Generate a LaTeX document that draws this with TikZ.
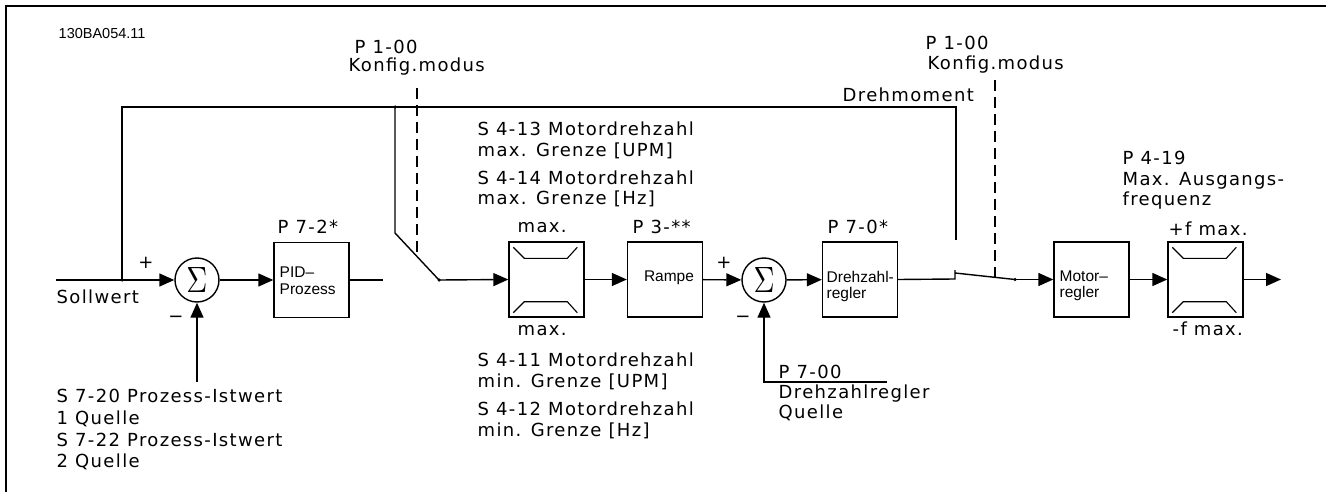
\documentclass[tikz,border=0pt]{standalone}
\usepackage{fontspec}
\newfontfamily\dv[LetterSpace=7.5]{DejaVu Sans}
\newfontfamily\ls{Liberation Sans}
\usetikzlibrary{arrows.meta,calc}
\newcommand{\sumsym}{\resizebox{21pt}{25pt}{$\Sigma$}}
\begin{document}
\begin{tikzpicture}[x=1pt,y=-1pt,line width=1.4pt,
  lbl/.style={anchor=west,inner sep=0pt,font=\dv\fontsize{18}{21}\selectfont,text height=13pt,text depth=0pt},
  sgn/.style={lbl,anchor=center},
  blab/.style={anchor=west,inner sep=0pt,font=\ls\fontsize{15.5}{17}\selectfont,text height=11pt,text depth=0pt},
  blk/.style={draw,minimum width=75pt,minimum height=75pt,inner sep=0pt},
  sumn/.style={draw,circle,minimum size=44pt,inner sep=0pt},
  arr/.style={-{Triangle[length=15pt,width=13pt]}},
  dotn/.style={circle,fill,inner sep=0pt,minimum size=3.5pt},
  dsh/.style={dash pattern=on 11pt off 6pt}]
\useasboundingbox (0,0) rectangle (1326,492);
% frame
\draw[line width=2.4pt] (6,492) -- (6,6) -- (1326,6);
\node[anchor=west,inner sep=0pt,font=\ls\fontsize{14.5}{16}\selectfont,text height=10.4pt,text depth=0pt] (id) at (58,33) {130BA054.11};

% blocks
\node[sumn] (s1) at (197,280) {\sumsym};
\node[blk] (pid) at (311.5,280) {};
\node[blk] (lim1) at (546.5,279.5) {};
\node[blk] (ramp) at (665,279.5) {};
\node[sumn] (s2) at (764,280) {\sumsym};
\node[blk] (drz) at (860,279.5) {};
\node[blk] (mot) at (1091.5,279.5) {};
\node[blk] (lim2) at (1205.5,279.5) {};

% block labels
\node[blab] (pidt1) at (279,272) {PID–};
\node[blab] (pidt2) at (279,289) {Prozess};
\node[blab,anchor=center] (rampt) at (669,276) {Rampe};
\node[blab] (drzt1) at (826,277) {Drehzahl-};
\node[blab] (drzt2) at (826,293) {regler};
\node[blab] (mott1) at (1059,276) {Motor–};
\node[blab] (mott2) at (1059,292) {regler};

% limiter symbols
\foreach \b in {lim1,lim2}{
  \draw[line width=1.1pt] ($(\b.north west)+(5,6)$) -- ($(\b.north west)+(16,17)$) -- ($(\b.north west)+(59,17)$) -- ($(\b.north west)+(69,6)$);
  \draw[line width=1.1pt] ($(\b.south west)+(5,-5)$) -- ($(\b.south west)+(16,-16)$) -- ($(\b.south west)+(59,-16)$) -- ($(\b.south west)+(69,-5)$);
}

% coordinates
\coordinate (in) at (56,280);
\node[dotn] (j1) at (122,280) {};
\coordinate (tl) at (122,107);
\node[dotn] (j2) at (395,107) {};
\coordinate (sw1k) at (395,233);
\node[dotn] (p1) at (439,280) {};
\coordinate (pidout) at (383,280);
\coordinate (tr) at (956,107);
\coordinate (tqend) at (956,240);
\coordinate (fb1) at (197,382);
\coordinate (fb2a) at (887,382);
\coordinate (fb2b) at (764,382);
\coordinate (c2a) at (955,279);
\coordinate (c2b) at (955,270);
\coordinate (c2c) at (955,273);
\node[dotn] (p2) at (1015,279.5) {};
\coordinate (out) at (1281,279.5);
\coordinate (d1a) at (417,88);
\coordinate (d1b) at (417,257);
\coordinate (d2a) at (995,80);
\coordinate (d2b) at (995,277);

% connectors
\draw[arr] (in) -- (s1.west);
\draw (j1.center) -- (tl) -- (tr) -- (tqend);
\draw[arr] (fb1) -- (s1.south);
\draw[arr] (s1) -- (pid);
\draw (pid.east) -- (pidout);
\draw (j2.center) -- (sw1k) -- (p1.center);
\draw[arr] (p1.center) -- (lim1.west);
\draw[arr] (lim1) -- (ramp);
\draw[arr] (ramp) -- (s2);
\draw[arr] (s2) -- (drz);
\draw[arr] (fb2a) -- (fb2b) -- (s2.south);
\draw (drz.east) -- (c2a) -- (c2b);
\draw (c2c) -- (p2.center);
\draw[arr] (p2.center) -- (mot.west);
\draw[arr] (mot) -- (lim2);
\draw[arr] (lim2.east) -- (out);
\draw[dsh] (d1a) -- (d1b);
\draw[dsh] (d2a) -- (d2b);

% labels
\node[lbl] (l1) at (354,47) {P 1-00};
\node[lbl] (l2) at (348,65) {Konfig.modus};
\node[lbl] (l3) at (925,43) {P 1-00};
\node[lbl] (l4) at (927,63) {Konfig.modus};
\node[lbl] (l5) at (842,95) {Drehmoment};
\node[lbl] (l6) at (477,129) {S 4-13 Motordrehzahl};
\node[lbl] (l7) at (477,150) {max. Grenze [UPM]};
\node[lbl] (l8) at (477,178) {S 4-14 Motordrehzahl};
\node[lbl] (l9) at (477,198) {max. Grenze [Hz]};
\node[lbl] (l10) at (1122,158) {P 4-19};
\node[lbl] (l11) at (1122,179) {Max. Ausgangs-};
\node[lbl] (l12) at (1122,199) {frequenz};
\node[lbl] (l13) at (277,227) {P 7-2*};
\node[lbl] (l14) at (517,226) {max.};
\node[lbl] (l15) at (632,227) {P 3-**};
\node[lbl] (l16) at (827,227) {P 7-0*};
\node[lbl] (l17) at (1168,229) {+f max.};
\node[lbl] (l18) at (56,297) {Sollwert};
\node[lbl] (l19) at (517,329) {max.};
\node[lbl] (l20) at (1172,329) {-f max.};
\node[lbl] (l21) at (477,360) {S 4-11 Motordrehzahl};
\node[lbl] (l22) at (477,381) {min. Grenze [UPM]};
\node[lbl] (l23) at (477,409) {S 4-12 Motordrehzahl};
\node[lbl] (l24) at (477,430) {min. Grenze [Hz]};
\node[lbl] (l25) at (778,372) {P 7-00};
\node[lbl] (l26) at (778,392) {Drehzahlregler};
\node[lbl] (l27) at (778,412) {Quelle};
\node[lbl] (l28) at (56,396) {S 7-20 Prozess-Istwert};
\node[lbl] (l29) at (56,418) {1 Quelle};
\node[lbl] (l30) at (56,440) {S 7-22 Prozess-Istwert};
\node[lbl] (l31) at (56,461) {2 Quelle};
\node[sgn] (pl1) at (146,262) {+};
\node[sgn] (mi1) at (176,316) {−};
\node[sgn] (pl2) at (724,262) {+};
\node[sgn] (mi2) at (743,316) {−};
\end{tikzpicture}
\end{document}
